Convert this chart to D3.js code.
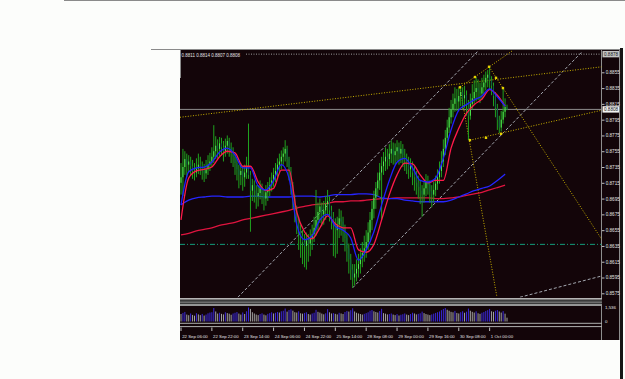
<!DOCTYPE html>
<html>
<head>
<meta charset="utf-8">
<title>EURGBP H1</title>
<script src="https://d3js.org/d3.v7.min.js"></script>
<style>
body { margin:0; background:#fcfdfb; overflow:hidden; }
</style>
</head>
<body>
<svg id="chart" width="625" height="379"></svg>
<script>
// prices are written in pips (x 0.0001)
const PIP = 0.0001;

const opens = [
8715,8722,8735,8745,8738,8742,8736,8730,8728,8733,
8738,8735,8730,8727,8732,8738,8742,8748,8755,8762,
8758,8765,8760,8755,8762,8768,8760,8755,8748,8740,
8732,8725,8730,8722,8728,8735,8725,8705,8712,8705,
8698,8702,8708,8700,8695,8703,8706,8712,8718,8725,
8730,8738,8742,8748,8752,8758,8745,8730,8712,8695,
8680,8668,8655,8648,8640,8635,8642,8638,8645,8650,
8658,8668,8678,8685,8675,8680,8688,8692,8680,8672,
8662,8655,8662,8670,8666,8656,8645,8632,8618,8605,
8595,8600,8606,8612,8620,8626,8632,8640,8652,8668,
8682,8696,8708,8718,8728,8736,8742,8748,8745,8752,
8758,8750,8755,8760,8752,8758,8750,8745,8740,8732,
8738,8728,8722,8715,8710,8705,8700,8708,8716,8712,
8704,8700,8706,8714,8722,8730,8742,8758,8772,8785,
8798,8808,8815,8822,8818,8825,8830,8822,8826,8815,
8800,8815,8822,8830,8835,8832,8828,8836,8842,8848,
8852,8845,8838,8825,8810,8795,8785,8795,8805,8811];

const highs = [
8740,8758,8755,8752,8750,8748,8744,8740,8746,8752,
8748,8742,8739,8744,8750,8753,8760,8788,8774,8770,
8773,8772,8768,8771,8775,8772,8766,8760,8752,8746,
8738,8740,8736,8738,8748,8790,8730,8720,8718,8712,
8712,8718,8714,8706,8712,8716,8722,8728,8734,8740,
8746,8752,8756,8760,8769,8762,8748,8735,8716,8700,
8686,8672,8662,8655,8650,8652,8650,8656,8662,8672,
8706,8690,8695,8690,8692,8698,8706,8698,8686,8678,
8670,8672,8682,8680,8672,8662,8650,8638,8625,8612,
8612,8618,8625,8632,8640,8648,8655,8665,8678,8692,
8705,8716,8728,8740,8748,8754,8760,8758,8764,8769,
8766,8765,8769,8766,8768,8764,8758,8752,8748,8746,
8742,8736,8730,8724,8718,8712,8718,8726,8724,8718,
8712,8716,8724,8732,8742,8755,8770,8782,8795,8810,
8820,8828,8836,8834,8836,8838,8836,8838,8832,8820,
8828,8840,8845,8849,8846,8842,8848,8852,8856,8858,
8862,8850,8842,8830,8815,8800,8806,8835,8822,8814];

const lows = [
8700,8698,8725,8722,8728,8725,8720,8718,8722,8726,
8725,8719,8716,8720,8725,8730,8735,8740,8745,8746,
8748,8750,8742,8748,8752,8748,8740,8735,8725,8718,
8708,8712,8705,8710,8720,8720,8653,8692,8690,8682,
8685,8694,8688,8680,8686,8692,8698,8704,8710,8716,
8722,8728,8732,8738,8742,8735,8718,8700,8682,8665,
8650,8630,8620,8612,8608,8605,8615,8622,8630,8640,
8648,8655,8664,8660,8662,8668,8674,8666,8656,8622,
8620,8625,8645,8648,8640,8628,8615,8600,8592,8582,
8585,8590,8595,8600,8608,8615,8620,8630,8642,8655,
8670,8682,8698,8706,8668,8725,8730,8732,8736,8740,
8738,8738,8742,8738,8740,8735,8730,8726,8720,8722,
8712,8705,8700,8695,8688,8672,8690,8698,8700,8690,
8684,8690,8698,8706,8714,8722,8735,8750,8765,8778,
8790,8798,8805,8806,8808,8812,8808,8810,8800,8769,
8795,8808,8815,8818,8820,8816,8820,8826,8832,8836,
8834,8826,8812,8798,8782,8778,8780,8790,8798,8807];

const closes = [
8722,8735,8745,8738,8742,8736,8730,8728,8733,8738,
8735,8730,8727,8732,8738,8742,8748,8755,8762,8758,
8765,8760,8755,8762,8768,8760,8755,8748,8740,8732,
8725,8730,8722,8728,8735,8725,8705,8712,8705,8698,
8702,8708,8700,8695,8703,8706,8712,8718,8725,8730,
8738,8742,8748,8752,8758,8745,8730,8712,8695,8680,
8668,8655,8648,8640,8635,8642,8638,8645,8650,8658,
8668,8678,8685,8675,8680,8688,8692,8680,8672,8662,
8655,8662,8670,8666,8656,8645,8632,8618,8605,8595,
8600,8606,8612,8620,8626,8632,8640,8652,8668,8682,
8696,8708,8718,8728,8736,8742,8748,8745,8752,8758,
8750,8755,8760,8752,8758,8750,8745,8740,8732,8738,
8728,8722,8715,8710,8705,8700,8708,8716,8712,8704,
8700,8706,8714,8722,8730,8742,8758,8772,8785,8798,
8808,8815,8822,8818,8825,8830,8822,8826,8815,8800,
8815,8822,8830,8835,8832,8828,8836,8842,8848,8852,
8845,8838,8825,8810,8795,8785,8795,8805,8811,8808];

const volumes = [
820,940,1050,760,690,880,720,640,910,780,
700,830,650,760,900,980,1020,1480,1100,870,
960,840,780,1010,920,860,740,880,960,1040,
870,760,990,820,1120,1536,1380,1020,880,760,
700,820,900,760,680,840,920,1010,880,960,
1050,980,1120,1180,1420,1080,1260,1340,1190,1020,
980,1120,900,860,940,1010,820,760,880,960,
1280,1060,980,870,790,900,1350,1010,880,920,
840,780,960,880,820,1040,1160,1090,1240,1450,
1100,960,880,820,760,840,920,1010,1180,1260,
1120,1040,980,1150,1390,920,860,780,820,880,
760,700,820,660,740,800,880,760,700,820,
960,880,780,840,900,1080,920,820,760,700,
780,860,940,1020,1100,1240,1380,1480,1290,1180,
1060,1010,1160,940,880,1020,1120,960,1080,1420,
1180,1060,980,1120,900,840,960,1040,1160,1240,
1380,1120,1060,1180,1260,1100,980,1140,860,420];

// moving averages, one value every maStep bars
const maStep = 4;
const fastRed = [8668,8721,8730,8732,8735,8748,8755,8753,8736,8736,8716,8705,8708,8731,8731,8678,8653,8644,8658,8673,8663,8658,8658,8630,8627,8637,8668,8700,8725,8740,8739,8725,8715,8718,8718,8759,8784,8803,8814,8821,8833,8826,8812];
const fastBlue = [8687,8729,8734,8735,8741,8754,8759,8750,8734,8734,8711,8706,8718,8738,8721,8662,8643,8648,8668,8675,8660,8655,8645,8617,8630,8653,8687,8718,8741,8746,8734,8718,8716,8721,8746,8782,8807,8814,8820,8825,8834,8824,8812];
const slowRed = [8649,8651,8654,8656,8658,8661,8663,8665,8668,8670,8672,8674,8676,8678,8680,8683,8685,8687,8688,8689,8691,8691,8692,8692,8693,8694,8695,8695,8696,8696,8696,8696,8696,8695,8695,8696,8697,8699,8701,8703,8706,8709,8712];
const slowBlue = [8687,8693,8696,8697,8698,8698,8697,8697,8697,8698,8698,8697,8697,8697,8697,8698,8698,8698,8697,8698,8700,8700,8700,8701,8701,8700,8696,8695,8695,8693,8692,8691,8691,8691,8691,8693,8697,8701,8705,8708,8711,8718,8726];

const priceTicks = [8855,8835,8815,8795,8775,8755,8735,8715,8695,8675,8655,8635,8615,8595,8575];
const timeLabels = ["22 Sep 06:00","22 Sep 22:00","23 Sep 14:00","24 Sep 06:00","24 Sep 22:00","25 Sep 14:00","28 Sep 08:00","29 Sep 00:00","29 Sep 16:00","30 Sep 08:00","1 Oct 00:00"];
const labelBars = [0,16,32,48,64,80,96,112,128,144,160];

const bidPrice = 8808;
const topPrice = 8878;
const levelPrice = 8637;
const headerText = "0.8811 0.8814 0.8807 0.8808";
const volMax = 1536;

// drawn objects as [bar, price] pairs
const trendLines = [
  [[29.5, 8570], [154, 8882]],
  [[89, 8582], [207.9, 8881]],
  [[175.7, 8570], [218.2, 8597]]
];
const fanLines = [
  [[-0.5, 8798], [218.2, 8862]],
  [[144.6, 8836], [171.6, 8882]],
  [[144.6, 8836], [163.8, 8570]],
  [[159.7, 8862], [218.2, 8643]],
  [[149.8, 8769], [218.2, 8807]]
];
const fanPoints = [[144.6, 8836], [152.4, 8849], [159.7, 8862], [163.3, 8848], [166.9, 8835], [149.8, 8769], [158.1, 8772], [165.9, 8777]];

const FONT = "Liberation Sans, Arial, sans-serif";
const svg = d3.select("#chart");

const x = d3.scaleLinear().domain([0, closes.length - 1]).range([181, 507]);
const y = d3.scaleLinear().domain([8575 * PIP, 8855 * PIP]).range([293.3, 72.3]);
const yv = d3.scaleLinear().domain([0, volMax]).range([321.5, 307.5]);

// window frame
svg.append("rect").attr("width", 625).attr("height", 379).attr("fill", "#fcfdfb");
svg.append("line").attr("x1", 64).attr("x2", 625).attr("y1", 0.5).attr("y2", 0.5).attr("stroke", "#8a8a8a");
svg.append("line").attr("x1", 151).attr("x2", 621).attr("y1", 49.5).attr("y2", 49.5).attr("stroke", "#8a8a8a");
svg.append("rect").attr("x", 180).attr("y", 50).attr("width", 440).attr("height", 290).attr("fill", "#130509");
svg.append("rect").attr("x", 620).attr("y", 48).attr("width", 3).attr("height", 331).attr("fill", "#161616");
svg.append("line").attr("x1", 180.5).attr("x2", 180.5).attr("y1", 50).attr("y2", 78).attr("stroke", "#8a8a8a");
svg.append("line").attr("x1", 601.5).attr("x2", 601.5).attr("y1", 50).attr("y2", 340).attr("stroke", "#8e8e8e");
svg.append("line").attr("x1", 619.5).attr("x2", 619.5).attr("y1", 50).attr("y2", 340).attr("stroke", "#8e8e8e");

// panel separators
svg.append("rect").attr("x", 180).attr("y", 298).attr("width", 422).attr("height", 8).attr("fill", "#3a3a3a");
[[298.8, "#b4b4b4", 1.5], [302.2, "#858585", 1], [305, "#b4b4b4", 1.5], [323.3, "#b0b0b0", 1], [326.6, "#b0b0b0", 1]]
  .forEach(s => svg.append("line").attr("x1", 180).attr("x2", 602).attr("y1", s[0]).attr("y2", s[0])
    .attr("stroke", s[1]).attr("stroke-width", s[2]));

svg.append("defs").append("clipPath").attr("id", "mainClip")
  .append("rect").attr("x", 180).attr("y", 50).attr("width", 421.5).attr("height", 247.5);

const g = svg.append("g").attr("clip-path", "url(#mainClip)");

function hline(p, color, dash, x1) {
  g.append("line").attr("x1", x1 || 180).attr("x2", 602).attr("y1", y(p * PIP)).attr("y2", y(p * PIP))
    .attr("stroke", color).attr("stroke-width", 1).attr("stroke-dasharray", dash);
}
hline(topPrice, "#9a9a9a", "1,1.5", 246);
hline(levelPrice, "#139c7a", "5,2,1,2");
hline(bidPrice, "#8e8e8e", null);

const seg = d3.line().x(d => x(d[0])).y(d => y(d[1] * PIP));
g.selectAll(".trend").data(trendLines).join("path").attr("class", "trend")
  .attr("d", seg).attr("fill", "none").attr("stroke", "#a4a8b0").attr("stroke-width", 1).attr("stroke-dasharray", "3,2");
g.selectAll(".fan").data(fanLines).join("path").attr("class", "fan")
  .attr("d", seg).attr("fill", "none").attr("stroke", "#c8b000").attr("stroke-width", 1).attr("stroke-dasharray", "1,1.6");

const maLine = d3.line().x((d, k) => x(Math.min(k * maStep, closes.length - 1))).y(d => y(d * PIP)).curve(d3.curveMonotoneX);
[[slowRed, "#e0143f"], [slowBlue, "#2626ff"]].forEach(m =>
  g.append("path").attr("d", maLine(m[0])).attr("fill", "none").attr("stroke", m[1]).attr("stroke-width", 1.3));

// candles
const idx = d3.range(closes.length);
g.selectAll(".wick").data(idx).join("line").attr("class", "wick")
  .attr("x1", i => x(i)).attr("x2", i => x(i))
  .attr("y1", i => y(highs[i] * PIP)).attr("y2", i => y(lows[i] * PIP))
  .attr("stroke", "#1fa31f").attr("stroke-width", 1);
g.selectAll(".body").data(idx).join("line").attr("class", "body")
  .attr("x1", i => x(i)).attr("x2", i => x(i))
  .attr("y1", i => y(opens[i] * PIP)).attr("y2", i => y(closes[i] * PIP) + (opens[i] === closes[i] ? 0.6 : 0))
  .attr("stroke", i => closes[i] >= opens[i] ? "#52ee52" : "#0d5e46").attr("stroke-width", 1);

[[fastRed, "#ff1a4a"], [fastBlue, "#2020ff"]].forEach(m =>
  g.append("path").attr("d", maLine(m[0])).attr("fill", "none").attr("stroke", m[1]).attr("stroke-width", 1.3));

g.selectAll(".pt").data(fanPoints).join("rect").attr("class", "pt")
  .attr("x", d => x(d[0]) - 1.2).attr("y", d => y(d[1] * PIP) - 1.2)
  .attr("width", 2.4).attr("height", 2.4).attr("fill", "#e6d200");

// volumes
svg.append("g").selectAll("line").data(idx).join("line")
  .attr("x1", i => x(i)).attr("x2", i => x(i))
  .attr("y1", yv(0)).attr("y2", i => yv(volumes[i]))
  .attr("stroke", i => (i > 0 && volumes[i] >= volumes[i - 1]) ? "#3a28d8" : "#a2a2a2").attr("stroke-width", 1);

// header
svg.append("text").attr("x", 181.5).attr("y", 57).attr("fill", "#e2e2e2")
  .attr("font-family", FONT).attr("font-size", 4.5).text(headerText);

// price scale
const yAxis = d3.axisRight(y).tickValues(priceTicks.map(p => p * PIP))
  .tickFormat(d3.format(".4f")).tickSize(2.5).tickPadding(1.2).tickSizeOuter(0);
const ga = svg.append("g").attr("transform", "translate(602,0)").call(yAxis)
  .attr("font-family", FONT).attr("font-size", 4.6);
ga.select(".domain").remove();
ga.selectAll("line").attr("stroke", "#bdbdbd");
ga.selectAll("text").attr("fill", "#e4e4e4");

function priceBox(p, bg, fg) {
  const yy = y(p * PIP);
  svg.append("rect").attr("x", 602.5).attr("y", yy - 3.2).attr("width", 16.5).attr("height", 6.4).attr("fill", bg);
  svg.append("text").attr("x", 604).attr("y", yy).attr("dy", "0.35em").attr("fill", fg)
    .attr("font-family", FONT).attr("font-size", 4.6).text(d3.format(".4f")(p * PIP));
}
priceBox(topPrice, "#c4c4c4", "#1a1a1a");
priceBox(bidPrice, "#f2f2f2", "#111111");

// volume scale
const gv = svg.append("g").attr("transform", "translate(602,0)")
  .call(d3.axisRight(yv).tickValues([0, volMax]).tickSize(0).tickPadding(3))
  .attr("font-family", FONT).attr("font-size", 4.4);
gv.select(".domain").remove();
gv.selectAll("text").attr("fill", "#e4e4e4");

// time scale
const xAxis = d3.axisBottom(x).tickValues(labelBars).tickFormat((d, k) => timeLabels[k])
  .tickSize(3.5).tickSizeOuter(0);
const gx = svg.append("g").attr("transform", "translate(-0.5,327.5)").call(xAxis)
  .attr("font-family", FONT).attr("font-size", 4.3);
gx.select(".domain").remove();
gx.selectAll("line").attr("stroke", "#c0c0c0");
gx.selectAll("text").attr("fill", "#e4e4e4").attr("text-anchor", "start").attr("x", 1.2).attr("y", 10).attr("dy", 0);
</script>
</body>
</html>
